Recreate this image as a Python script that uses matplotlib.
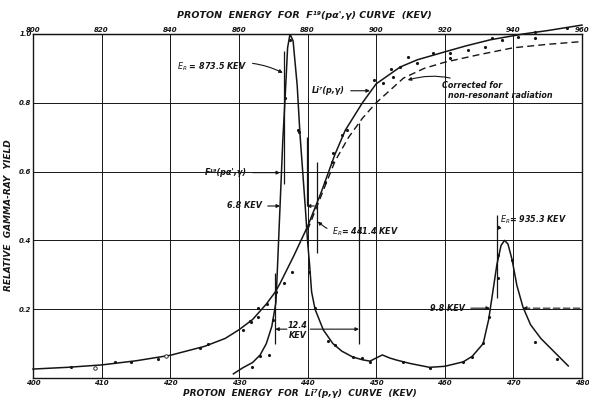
import numpy as np
import matplotlib
matplotlib.use("Agg")
import matplotlib.pyplot as plt

# Li7(p,g) curve (bottom axis energy, keV) - solid line
li7_x = [400, 405, 410, 415, 420, 425, 428, 430, 432, 434, 435.3, 436, 438, 440,
         442, 444, 445.5, 448, 450, 453.5, 456, 460, 463, 466.6, 471.4, 475, 480]
li7_y = [0.026, 0.031, 0.038, 0.05, 0.066, 0.092, 0.115, 0.14, 0.17, 0.215, 0.25,
         0.275, 0.355, 0.44, 0.54, 0.65, 0.72, 0.80, 0.855, 0.904, 0.925, 0.948,
         0.965, 0.983, 1.0, 1.01, 1.026]

# corrected for non-resonant radiation - dashed line
corr_x = [440, 442, 444, 446, 448, 450, 454, 457, 460, 465, 470, 475, 480]
corr_y = [0.43, 0.53, 0.63, 0.70, 0.755, 0.80, 0.872, 0.90, 0.918, 0.94, 0.96, 0.97, 0.978]

# F19(p,a'g) curve, drawn on the bottom scale
f19_x = [429.2, 430.6, 432, 433.1, 434, 434.8, 435.4, 435.6, 436.0, 436.4, 436.7, 436.9,
         437.1, 437.45, 437.9, 438.5, 438.9, 439.3, 439.7, 440.0, 440.3, 440.6, 441.1,
         442.3, 443.7, 445, 446.6, 448, 449.1, 450.0, 450.9, 452, 453, 455, 457.8, 460,
         462.7, 464, 465.6, 466.4, 467, 467.6, 468.2, 468.7, 469.2, 469.8, 470.5, 471.4,
         472.5, 474, 476.4, 478]
f19_y = [0.012, 0.03, 0.045, 0.067, 0.10, 0.15, 0.22, 0.31, 0.50, 0.69, 0.80, 0.88,
         0.96, 1.0, 0.98, 0.85, 0.71, 0.60, 0.49, 0.40, 0.33, 0.25, 0.20,
         0.14, 0.10, 0.078, 0.061, 0.053, 0.049, 0.058, 0.067, 0.058, 0.052, 0.042, 0.031, 0.034,
         0.047, 0.063, 0.10, 0.17, 0.25, 0.33, 0.385, 0.40, 0.39, 0.345, 0.27, 0.206,
         0.155, 0.115, 0.067, 0.035]

# measured points
li7_px = [405.6, 412.0, 414.3, 418.2, 424.3, 425.5, 430.6, 431.6, 431.8, 432.8, 432.8,
          434.1, 435.4, 436.6, 437.7, 442.6, 443.5, 443.7, 445.0, 445.7, 449.7, 451.0,
          452.2, 452.5, 453.5, 454.6, 455.9, 458.3, 460.8, 460.8, 463.4, 465.9, 466.9,
          468.3, 470.7, 473.2, 473.2, 477.8]
li7_py = [0.032, 0.047, 0.047, 0.055, 0.087, 0.099, 0.14, 0.166, 0.163, 0.177, 0.203,
          0.215, 0.25, 0.276, 0.308, 0.57, 0.628, 0.654, 0.706, 0.72, 0.866, 0.858,
          0.898, 0.875, 0.904, 0.933, 0.916, 0.945, 0.945, 0.93, 0.953, 0.962, 0.988,
          0.983, 0.99, 0.988, 1.006, 1.017]
circ_px = [409.0, 419.4]
circ_py = [0.029, 0.064]
f19_px = [431.9, 433.1, 434.4, 435.0, 436.7, 437.4, 438.6, 438.8, 440.2, 441.1, 443.0,
          444.0, 446.6, 447.9, 449.1, 453.9, 457.8, 462.7, 464.0, 465.6, 466.4, 467.8,
          467.8, 469.8, 473.2, 476.4]
f19_py = [0.032, 0.064, 0.067, 0.169, 0.814, 0.983, 0.721, 0.715, 0.308, 0.203, 0.108,
          0.096, 0.061, 0.058, 0.047, 0.047, 0.029, 0.047, 0.061, 0.102, 0.177, 0.29,
          0.357, 0.343, 0.105, 0.055]

xticks = [400, 410, 420, 430, 440, 450, 460, 470, 480]
top_ticks = [800, 820, 840, 860, 880, 900, 920, 940, 960]
yticks = [0.2, 0.4, 0.6, 0.8, 1.0]
ylabels = ["0.2", "0.4", "0.6", "0.8", "1.0"]

ink = "#151515"
tfont = dict(fontstyle="italic", fontweight="bold", color=ink)

fig = plt.figure(figsize=(5.89, 3.98), dpi=100)
ax = fig.add_axes([33 / 589, 1 - 378 / 398, 549 / 589, 344 / 398])
ax.set_xlim(400, 480)
ax.set_ylim(0, 1.0)
ax.set_xticks(xticks)
ax.set_xticklabels([str(t) for t in xticks], fontsize=5, **tfont)
ax.set_yticks(yticks)
ax.set_yticklabels(ylabels, fontsize=5, **tfont)
ax.tick_params(axis="x", length=0, pad=1.5)
ax.tick_params(axis="y", length=0, pad=1)
ax.grid(True, color=ink, lw=0.7)
for s in ax.spines.values():
    s.set_color(ink)
    s.set_linewidth(1.0)

sec = ax.secondary_xaxis("top", functions=(lambda x: 800 + 2 * (x - 400),
                                            lambda t: 400 + (t - 800) / 2))
sec.set_xticks(top_ticks)
sec.set_xticklabels([str(t) for t in top_ticks], fontsize=5, **tfont)
sec.tick_params(length=0, pad=1)

ax.plot(li7_x, li7_y, color=ink, lw=1.1, clip_on=False)
ax.plot(corr_x, corr_y, color=ink, lw=1.0, ls=(0, (5, 3)), clip_on=False)
ax.plot(f19_x, f19_y, color=ink, lw=1.1)
ax.plot(li7_px, li7_py, ".", color=ink, ms=2.5, clip_on=False)
ax.plot(f19_px, f19_py, ".", color=ink, ms=2.5)
ax.plot(circ_px, circ_py, "o", mfc="white", mec=ink, ms=2.5, mew=0.6)

# marker lines
ax.vlines([436.6, 441.4, 467.6, 435.3, 447.5, 439.9],
          [0.565, 0.363, 0.232, 0.10, 0.10, 0.50],
          [0.951, 0.627, 0.474, 0.305, 0.741, 0.70], color=ink, lw=0.9)

afont = dict(fontsize=5.8, va="center", **tfont)
arr = dict(arrowstyle="-|>", color=ink, lw=0.8, mutation_scale=5, shrinkA=2, shrinkB=0)

ax.annotate(r"$E_R$ = 873.5 KEV", xy=(436.4, 0.887), xytext=(421.0, 0.904), ha="left",
            arrowprops=dict(arr, connectionstyle="arc3,rad=-0.2"), **afont)
ax.annotate("Li⁷(p,γ)", xy=(449.1, 0.835), xytext=(440.7, 0.835), ha="left",
            arrowprops=arr, **afont)
ax.annotate("Corrected for", xy=(454.6, 0.866), xytext=(459.6, 0.849), ha="left",
            arrowprops=dict(arr, connectionstyle="arc3,rad=0.2"), **afont)
ax.text(460.5, 0.82, "non-resonant radiation", ha="left", **afont)
ax.annotate("F¹⁹(pα',γ)", xy=(436.0, 0.597), xytext=(425.1, 0.597), ha="left",
            arrowprops=arr, **afont)
ax.annotate("6.8 KEV", xy=(436.0, 0.5), xytext=(428.3, 0.5), ha="left",
            arrowprops=arr, **afont)
ax.annotate("", xy=(439.9, 0.5), xytext=(441.0, 0.5), arrowprops=dict(arr, shrinkA=0))
ax.annotate(r"$E_R$= 441.4 KEV", xy=(441.5, 0.455), xytext=(443.6, 0.426), ha="left",
            arrowprops=dict(arr, connectionstyle="arc3,rad=-0.3"), **afont)
ax.annotate(r"$E_R$= 935.3 KEV", xy=(467.6, 0.43), xytext=(468.0, 0.461), ha="left",
            arrowprops=dict(arr, connectionstyle="arc3,rad=0.3"), **afont)
ax.text(438.6, 0.154, "12.4", ha="center", **afont)
ax.text(438.6, 0.125, "KEV", ha="center", **afont)
ax.annotate("", xy=(435.3, 0.142), xytext=(437.0, 0.142), arrowprops=dict(arr, shrinkA=0))
ax.annotate("", xy=(447.5, 0.142), xytext=(440.4, 0.142), arrowprops=dict(arr, shrinkA=0))
ax.annotate("9.8 KEV", xy=(466.6, 0.203), xytext=(457.9, 0.203), ha="left",
            arrowprops=arr, **afont)
ax.annotate("", xy=(471.4, 0.203), xytext=(479.7, 0.203),
            arrowprops=dict(arr, shrinkA=0, linestyle=(0, (6, 3))))

fig.text(304 / 589, 1 - 16 / 398, "PROTON  ENERGY  FOR  F¹⁹(pα',γ) CURVE  (KEV)",
         ha="center", va="center", fontsize=6.8, **tfont)
fig.text(300 / 589, 1 - 393 / 398, "PROTON  ENERGY  FOR  Li⁷(p,γ)  CURVE  (KEV)",
         ha="center", va="center", fontsize=6.5, **tfont)
fig.text(9 / 589, 1 - 215 / 398, "RELATIVE  GAMMA-RAY  YIELD", rotation=90,
         ha="center", va="center", fontsize=6.5, **tfont)

fig.savefig("out.png", dpi=100)
